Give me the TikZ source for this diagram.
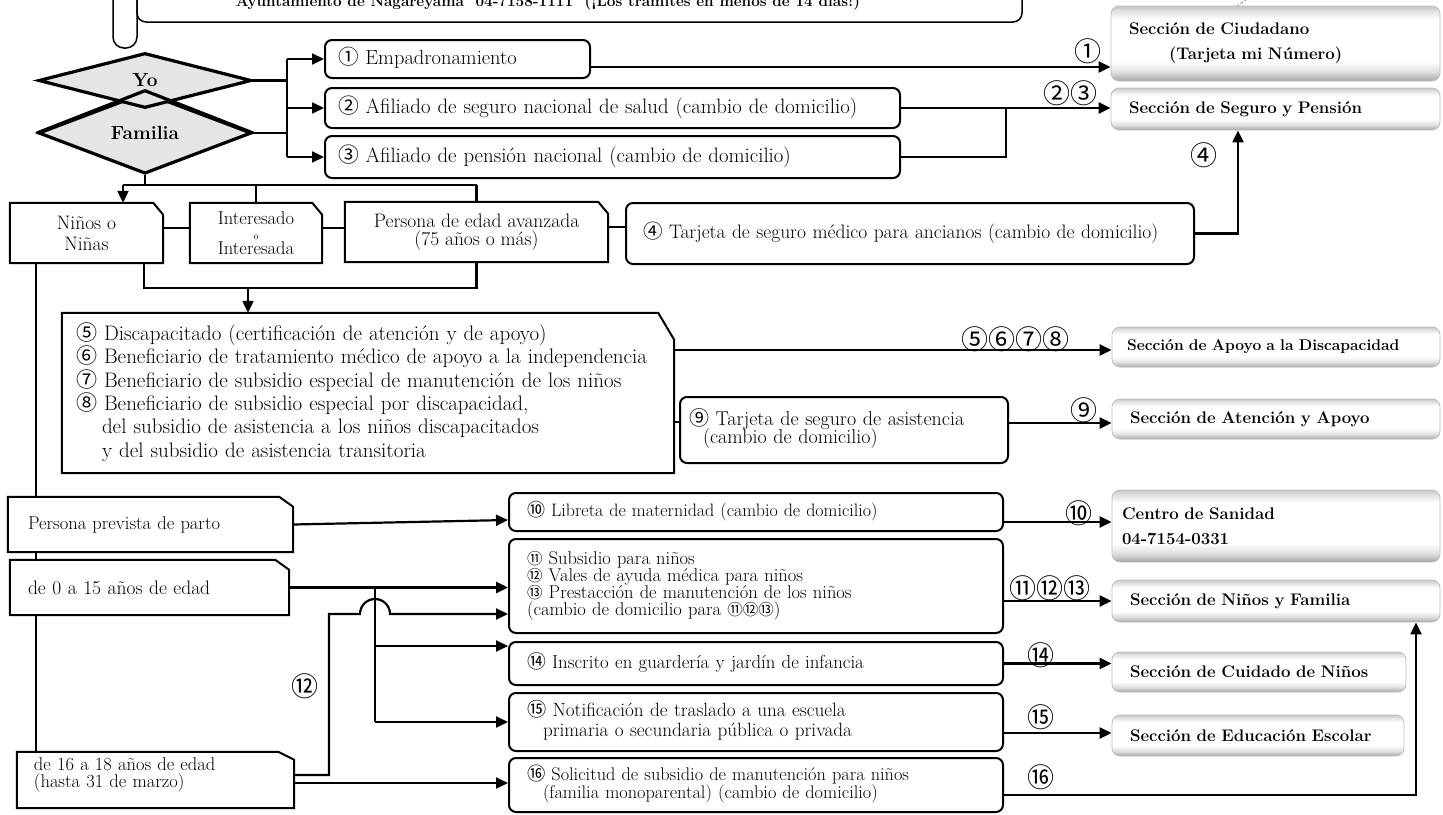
\documentclass[tikz,border=0pt]{standalone}
\usepackage{fontspec}
\newfontfamily\cjk{Noto Sans CJK JP}
\usetikzlibrary{arrows.meta,shapes.geometric}
\pgfdeclarelayer{bg}\pgfdeclarelayer{mid}
\pgfsetlayers{bg,mid,main}
\pgfdeclareverticalshading{secshade}{100bp}{color(0bp)=(gray!70); color(25bp)=(gray!70); color(31bp)=(gray!25); color(38bp)=(white); color(66bp)=(white); color(72bp)=(gray!25); color(75bp)=(gray!45); color(100bp)=(gray!45)}
\newcommand\cn[1]{\smash{\cjk #1}}
\newcommand\cns[1]{\smash{\cjk\fontsize{15.5}{15.5}\selectfont #1}}
\newcommand\fs[2]{\fontsize{#1}{#2}\selectfont}
\newcommand\snipit[3]{\filldraw[fill=white, line width=2pt, line join=miter] (#1.south west) -- (#1.north west) -- ([xshift=-#2pt]#1.north east) -- ([yshift=-#3pt]#1.north east) -- (#1.south east) -- cycle;}
\begin{document}
\begin{tikzpicture}[x=1pt,y=-1pt,
 conn/.style={line width=2.2pt},
 arr/.style={line width=2.2pt,-{Triangle[length=12pt,width=11pt]}},
 rbox/.style={draw, fill=white, line width=2pt, rounded corners=7pt, align=left, inner xsep=18pt, inner ysep=0pt, font=\fs{18.5}{21}},
 sbox/.style={inner xsep=18pt, inner ysep=0pt, font=\fs{18.5}{21}},
 sec/.style={shade, shading=secshade, draw=gray!50, line width=0.8pt, rounded corners=8pt, align=left, inner xsep=18pt, inner ysep=0pt, font=\bfseries\fs{16.8}{25}},
 dia/.style={diamond, draw, fill=gray!20, line width=3.2pt, inner sep=0pt, font=\bfseries\fs{19}{20}},
 lab/.style={font=\cjk\fs{27}{27}, inner sep=0pt},
 every node/.append style={execute at begin node={\lineskiplimit=-100pt}}
]
\lineskiplimit=-100pt
\useasboundingbox (0,0) rectangle (1443,814);
\begin{pgfonlayer}{bg}
\fill[white] (0,0) rectangle (1443,814);
\end{pgfonlayer}

% title
\draw[line width=1.5pt, rounded corners=11pt] (113,-40) -- (113,48) -- (137,48) -- (137,-40);
\node[draw, line width=1.5pt, rounded corners=9pt, minimum width=885pt, minimum height=90pt, fill=white] (title) at (579.5,-23) {};
\node[font=\bfseries\fs{15.3}{18}, anchor=base] (titletxt) at (548,6) {Ayuntamiento de Nagareyama\ \ 04-7158-1111\ \ (¡Los trámites en menos de 14 días!)};
\draw[gray, densely dashed, line width=0.8pt] (1228,12) .. controls (1235,8) and (1240,4) .. (1246,0);

% diamonds
\node[dia, minimum width=213pt, minimum height=60pt] (fam) at (145,133) {Familia};
\node[dia, minimum width=213pt, minimum height=55pt] (yo) at (145,80.5) {Yo};
\draw[line width=3.2pt] (fam.west) -- (fam.north) -- (fam.east);

% first boxes
\node[rbox, inner xsep=13pt, minimum width=265pt, text width=239pt, minimum height=38pt, font=\fs{20.5}{21}] (b1) at (457.5,59) {\cn{①} Empadronamiento};
\node[rbox, inner xsep=13pt, minimum width=575pt, text width=549pt, minimum height=40pt, font=\fs{20.8}{21}] (b2) at (612.5,108) {\cn{②} Afiliado de seguro nacional de salud (cambio de domicilio)};
\node[rbox, inner xsep=13pt, minimum width=575pt, text width=549pt, minimum height=42pt, font=\fs{20.8}{21}] (b3) at (612.5,157) {\cn{③} Afiliado de pensión nacional (cambio de domicilio)};

% section boxes
\node[sec, minimum width=329pt, text width=293pt, minimum height=75pt] (cd) at (1275.5,43.5) {Sección de Ciudadano\\\hspace*{40pt}(Tarjeta mi Número)};
\node[sec, minimum width=329pt, text width=293pt, minimum height=42pt] (sp) at (1275.5,109) {Sección de Seguro y Pensión};
\node[sec, minimum width=328pt, text width=298pt, inner xsep=15pt, minimum height=40pt, font=\bfseries\fs{15.6}{25}] (dis) at (1276,347) {Sección de Apoyo a la Discapacidad};
\node[sec, minimum width=328pt, text width=292pt, minimum height=40pt] (at) at (1276,419) {Sección de Atención y Apoyo};
\node[sec, minimum width=328pt, inner xsep=10pt, text width=308pt, minimum height=72pt] (cs) at (1276,526) {Centro de Sanidad\\04-7154-0331};
\node[sec, minimum width=328pt, text width=292pt, minimum height=42pt] (nf) at (1276,601) {Sección de Niños y Familia};
\node[sec, minimum width=294pt, text width=258pt, minimum height=40pt] (cn) at (1259,672) {Sección de Cuidado de Niños};
\node[sec, minimum width=292pt, text width=256pt, minimum height=41pt] (ee) at (1258,735.5) {Sección de Educación Escolar};

% snip boxes row
\node[sbox, align=center, minimum width=153pt, minimum height=60pt, font=\fs{19.5}{21}] (ni) at (86.5,233) {Niños o\\Niñas};
\node[sbox, align=center, minimum width=132pt, minimum height=60pt, font=\fs{18.5}{15}] (it) at (256,233) {Interesado\\{\fs{10}{10}o}\\Interesada};
\node[sbox, align=center, minimum width=263pt, minimum height=60pt, font=\fs{19.5}{17.5}] (pe) at (476.5,232) {Persona de edad avanzada\\(75 años o más)};
\node[rbox, minimum width=568pt, inner xsep=17pt, text width=534pt, minimum height=61pt, font=\fs{19.5}{21}] (b4) at (910,233.5) {\cn{④} Tarjeta de seguro médico para ancianos (cambio de domicilio)};

\node[sbox, inner xsep=14pt, minimum width=612pt, text width=584pt, align=left, minimum height=160pt, font=\fs{21}{23.4}] (b58) at (368,393) {\cn{⑤} Discapacitado (certificación de atención y de apoyo)\\
\cn{⑥} Beneficiario de tratamiento médico de apoyo a la independencia\\
\cn{⑦} Beneficiario de subsidio especial de manutención de los niños\\
\cn{⑧} Beneficiario de subsidio especial por discapacidad,\\
\hspace*{26pt}del subsidio de asistencia a los niños discapacitados\\
\hspace*{26pt}y del subsidio de asistencia transitoria};
\node[rbox, minimum width=328pt, inner xsep=9pt, text width=310pt, minimum height=66pt, font=\fs{20}{18.5}] (b9) at (844,430) {\cn{⑨} Tarjeta de seguro de asistencia\\\hspace*{14pt}(cambio de domicilio)};

\node[sbox, minimum width=285pt, text width=245pt, inner xsep=20pt, minimum height=55pt, align=left] (pa) at (150.5,524.5) {Persona prevista de parto};
\node[rbox, minimum width=494pt, text width=458pt, minimum height=38pt, font=\fs{18}{21}] (b10) at (756,512) {\cn{⑩} Libreta de maternidad (cambio de domicilio)};
\node[rbox, minimum width=494pt, text width=458pt, minimum height=94pt, font=\fs{18.5}{17}] (b11) at (756,586) {\cns{⑪} Subsidio para niños\\
\cns{⑫} Vales de ayuda médica para niños\\
\cns{⑬} Prestacción de manutención de los niños\\
(cambio de domicilio para \cns{⑪⑫⑬})};
\node[sbox, minimum width=279pt, text width=243pt, minimum height=55pt, align=left, font=\fs{19.5}{21}] (c015) at (149.5,587.5) {de 0 a 15 años de edad};
\node[rbox, minimum width=494pt, text width=458pt, minimum height=43pt, font=\fs{18.8}{21}] (b14) at (756,663.5) {\cn{⑭} Inscrito en guardería y jardín de infancia};
\node[rbox, minimum width=494pt, text width=458pt, minimum height=58pt, font=\fs{19.2}{20}] (b15) at (756,722) {\cn{⑮} Notificación de traslado a una escuela\\\hspace*{16pt}primaria o secundaria pública o privada};
\node[rbox, minimum width=494pt, text width=458pt, minimum height=54pt, font=\fs{18.3}{18}] (b16) at (756,785) {\cn{⑯} Solicitud de subsidio de manutención para niños\\\hspace*{16pt}(familia monoparental) (cambio de domicilio)};
\node[sbox, minimum width=277pt, text width=243pt, inner xsep=17pt, minimum height=56pt, align=left, font=\fs{18.5}{16.5}] (c1618) at (155.5,780) {de 16 a 18 años de edad\\(hasta 31 de marzo)\\[-2pt]\mbox{}};

% labels
\node[lab] (L1) at (1088,51) {①};
\node[lab] (L23) at (1070,93) {②③};
\node[lab] (L4) at (1204,155) {④};
\node[lab] (L58) at (1015,339) {⑤⑥⑦⑧};
\node[lab] (L9) at (1084,410) {⑨};
\node[lab] (L10) at (1079,513) {⑩};
\node[lab] (L111213) at (1050,588) {⑪⑫⑬};
\node[lab] (L14) at (1041,655) {⑭};
\node[lab] (L15) at (1041,717) {⑮};
\node[lab] (L16) at (1041,777) {⑯};
\node[lab] (L12) at (305,686) {⑫};

\begin{pgfonlayer}{mid}
\snipit{ni}{10}{12}
\snipit{it}{10}{12}
\snipit{pe}{10}{12}
\snipit{b58}{16}{27}
\snipit{pa}{14}{10}
\snipit{c015}{14}{10}
\snipit{c1618}{16}{8}
\end{pgfonlayer}

\begin{pgfonlayer}{bg}
\coordinate (ja) at (287,59);
\coordinate (jb) at (287,157);
\draw[conn] (yo.east) -- (yo.east -| ja);
\draw[conn] (fam.east) -- (fam.east -| ja);
\draw[conn] (ja) -- (jb);
\draw[arr] (ja) -- (b1.west);
\draw[arr] (b2.west -| ja) -- (b2.west);
\draw[arr] (jb) -- (b3.west);

\coordinate (a1) at ([yshift=-8pt]b1.east);
\draw[arr] (a1) -- (a1 -| cd.west);
\coordinate (m23) at (1006,108);
\draw[arr] (b2.east) -- (b2.east -| sp.west);
\draw[conn] (b3.east) -| (m23);
\draw[arr] (b4.east) -| ([xshift=-37.5pt]sp.south);

\coordinate (h1) at (123,185);
\coordinate (h2) at (476.5,185);
\draw[conn] (fam.south) -- (fam.south |- h1);
\draw[conn] (h1) -- (h2);
\draw[arr] (h1) -- (h1 |- ni.north);
\draw[conn] (h1 -| it.north) -- (it.north);
\draw[conn] (h2) -- (pe.north);
\coordinate (e1) at ([yshift=5pt]ni.east);
\coordinate (e2) at ([yshift=5pt]it.east);
\coordinate (e3) at ([yshift=5pt]pe.east);
\draw[conn] (e1) -- (e1 -| it.west);
\draw[conn] (e2) -- (e2 -| pe.west);
\draw[conn] (e3) -- (e3 -| b4.west);

\coordinate (l1) at (144,288);
\coordinate (l2) at (476.5,288);
\coordinate (l3) at (248,288);
\draw[conn] (l1 |- ni.south) -- (l1) -- (l2) -- (pe.south);
\draw[arr] (l3) -- (l3 |- b58.north);

\coordinate (vx) at (36,0);
\draw[conn] (vx |- ni.south) -- (vx |- c1618.north);

\coordinate (a58) at ([yshift=43pt]b58.east);
\draw[arr] (a58) -- (a58 -| dis.west);
\coordinate (a89) at ([yshift=8pt]b9.west);
\draw[conn] (a89 -| b58.east) -- (a89);
\coordinate (a9) at ([yshift=7pt]b9.east);
\draw[arr] (a9) -- (a9 -| at.west);

\draw[arr] (pa.east) -- ([yshift=-8pt]b10.west);
\coordinate (a10) at ([yshift=-10pt]b10.east);
\draw[arr] (a10) -- (a10 -| cs.west);

\draw[arr, line width=3.2pt] (c015.east) -- (c015.east -| b11.west);
\coordinate (vb) at (375,0);
\draw[conn] (vb |- c015.east) -- (vb |- b15.west);
\draw[arr] (vb |- b15.west) -- (b15.west);
\coordinate (a14) at ([yshift=-5pt]b14.north west);
\draw[arr] (vb |- a14) -- (a14);

\coordinate (a12) at ([yshift=-28pt]b11.west);
\coordinate (k1) at (329,614);
\coordinate (hopL) at (360,614);
\coordinate (s1618) at ([yshift=5pt]c1618.east);
\draw[arr] (s1618) -| (k1) -- (hopL) arc[start angle=180, end angle=0, radius=15pt] -- (a12);

\coordinate (t1618) at ([yshift=-3pt]c1618.east);
\draw[arr] (t1618) -- (t1618 -| b16.west);
\coordinate (a16) at ([yshift=-10pt]b16.east);
\draw[arr] (a16) -| ([xshift=140pt]nf.south);
\coordinate (a11) at ([yshift=-15pt]b11.east);
\draw[arr] (a11) -- (a11 -| nf.west);
\draw[arr] (b14.east) -- (b14.east -| cn.west);
\coordinate (a15) at ([yshift=-11pt]b15.east);
\draw[arr] (a15) -- (a15 -| ee.west);
\end{pgfonlayer}
\end{tikzpicture}
\end{document}
